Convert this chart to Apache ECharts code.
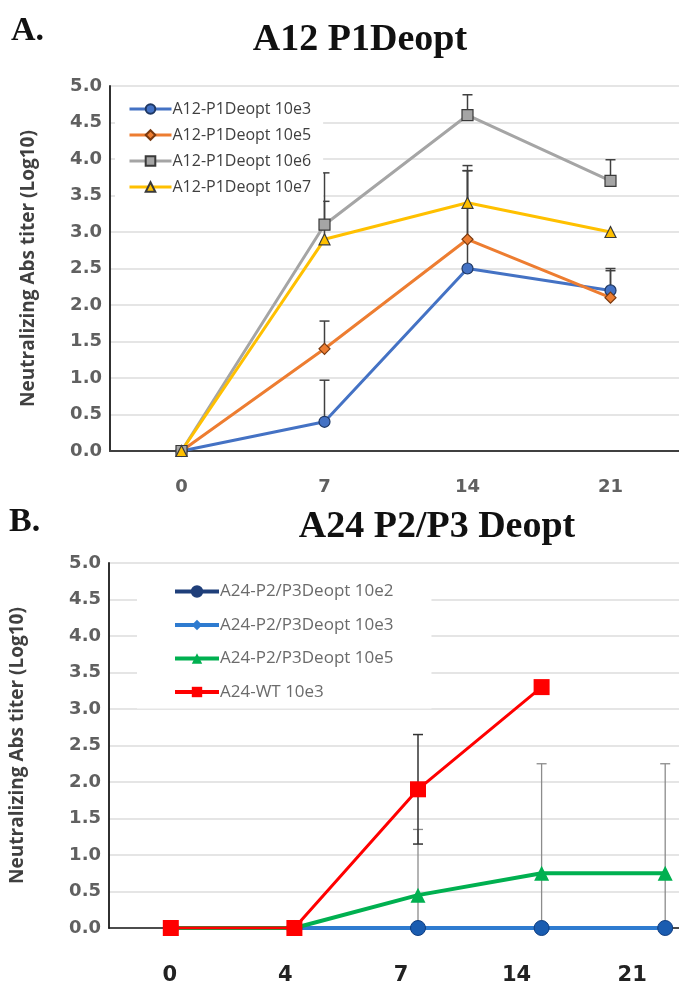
<!DOCTYPE html>
<html>
<head>
<meta charset="utf-8">
<title>Neutralizing Abs titer</title>
<script src="https://cdn.jsdelivr.net/npm/echarts@6/dist/echarts.min.js"></script>
<style>
    html, body { margin: 0; padding: 0; background: #fff; }
    #chart { width: 679px; height: 986px; }
</style>
</head>
<body>
<div id="chart"></div>
<script>
// ---- panel A : A12 P1Deopt ----
const daysA = ['0', '7', '14', '21'];
const namesA = ['A12-P1Deopt 10e3', 'A12-P1Deopt 10e5', 'A12-P1Deopt 10e6', 'A12-P1Deopt 10e7'];
const a10e3 = [0, 0.4, 2.5, 2.2];
const a10e5 = [0, 1.4, 2.9, 2.1];
const a10e6 = [0, 3.1, 4.6, 3.7];
const a10e7 = [0, 2.9, 3.4, 3.0];
// top end of the (plus only) error bars, null = no bar
const a10e3Err = [null, 0.97, 3.84, 2.5];
const a10e5Err = [null, 1.78, 3.84, 2.47];
const a10e6Err = [null, 3.81, 4.88, 3.99];
const a10e7Err = [null, 3.42, 3.91, null];

// ---- panel B : A24 P2/P3 Deopt ----
const daysB = ['0', '4', '7', '14', '21'];
const namesB = ['A24-P2/P3Deopt 10e2', 'A24-P2/P3Deopt 10e3', 'A24-P2/P3Deopt 10e5', 'A24-WT 10e3'];
const b10e2 = [0, 0, 0, 0, 0];
const b10e3 = [0, 0, 0, 0, 0];
const b10e5 = [0, 0, 0.45, 0.75, 0.75];
const bWT = [0, 0, 1.9, 3.3, null];
const b10e5ErrLow = [null, null, 0, 0, 0];
const b10e5ErrHigh = [null, null, 1.35, 2.25, 2.25];
const bWTErrLow = [null, null, 1.15, null, null];
const bWTErrHigh = [null, null, 2.65, null, null];

const chart = echarts.init(document.getElementById('chart'));

/**
 * 误差线数据: [index, low, high, lowCap]
 */
function errData(values, highs, lows) {
    const out = [];
    highs.forEach((h, i) => {
        if (h === null) return;
        const low = lows ? lows[i] : values[i];
        const lowCap = lows ? (lows[i] > 0 ? 1 : 0) : 0;
        out.push([i, low, h, lowCap]);
    });
    return out;
}

function errSeries(axisIdx, data, color, width) {
    return {
        type: 'custom',
        xAxisIndex: axisIdx,
        yAxisIndex: axisIdx,
        z: 1,
        silent: true,
        data: data,
        renderItem: function (params, api) {
            const x = api.value(0);
            const top = api.coord([x, api.value(2)]);
            const bot = api.coord([x, api.value(1)]);
            const half = 5;
            const style = { stroke: color, lineWidth: width };
            const children = [
                { type: 'line', shape: { x1: top[0], y1: top[1], x2: bot[0], y2: bot[1] }, style: style },
                { type: 'line', shape: { x1: top[0] - half, y1: top[1], x2: top[0] + half, y2: top[1] }, style: style }
            ];
            if (api.value(3)) {
                children.push({ type: 'line', shape: { x1: bot[0] - half, y1: bot[1], x2: bot[0] + half, y2: bot[1] }, style: style });
            }
            return { type: 'group', children: children };
        }
    };
}

function lineSeries(axisIdx, name, data, color, symbol, size, lw, border, z) {
    return {
        name: name,
        type: 'line',
        xAxisIndex: axisIdx,
        yAxisIndex: axisIdx,
        data: data,
        symbol: symbol,
        symbolSize: size,
        showAllSymbol: true,
        connectNulls: false,
        z: z || 2,
        lineStyle: { color: color, width: lw },
        itemStyle: { color: color, borderColor: border || color, borderWidth: border ? 1.2 : 0, opacity: 1 },
        emphasis: { disabled: true }
    };
}

const tickFont = { fontFamily: 'DejaVu Sans', fontWeight: 'bold', fontSize: 18, color: '#606060' };

const yAxisBase = {
    type: 'value',
    min: 0,
    max: 5,
    interval: 0.5,
    name: 'Neutralizing Abs titer (Log10)',
    nameLocation: 'middle',
    nameTextStyle: { fontFamily: 'Open Sans', fontWeight: 'bold', fontSize: 19, color: '#404040' },
    axisLine: { show: true, lineStyle: { color: '#1a1a1a', width: 1.8 } },
    axisTick: { show: false },
    axisLabel: Object.assign({ formatter: v => v.toFixed(1) }, tickFont),
    splitLine: { lineStyle: { color: '#dcdcdc', width: 1.6 } }
};

// 图例: 10e2 的线在图中被 10e3 盖住, 图例里仍用深蓝
const legendB = namesB.map(n => ({ name: n }));
legendB[0].lineStyle = { color: '#1F3F7A' };
legendB[0].itemStyle = { color: '#1F3F7A', borderColor: '#1F3F7A' };

const option = {
    backgroundColor: '#fff',
    animation: false,
    graphic: [
        { type: 'text', left: 11, top: 14, style: { text: 'A.', font: 'bold 34px "Liberation Serif"', fill: '#111' } },
        { type: 'text', x: 360, y: 40, style: { text: 'A12 P1Deopt', font: 'bold 38px "Liberation Serif"', fill: '#111', align: 'center', verticalAlign: 'middle' } },
        { type: 'text', left: 9, top: 505, style: { text: 'B.', font: 'bold 34px "Liberation Serif"', fill: '#111' } },
        { type: 'text', x: 437, y: 527, style: { text: 'A24 P2/P3 Deopt', font: 'bold 38px "Liberation Serif"', fill: '#111', align: 'center', verticalAlign: 'middle' } }
    ],
    grid: [
        { left: 110, top: 86, width: 572, height: 365, outerBoundsMode: 'none' },
        { left: 109, top: 563, width: 618, height: 365, outerBoundsMode: 'none' },
        // only carries the day labels of panel B
        { left: 112, top: 563, width: 578, height: 365, outerBoundsMode: 'none' }
    ],
    legend: [
        {
            data: namesA,
            orient: 'vertical',
            left: 115,
            top: 93,
            padding: [8, 12, 8, 13],
            itemGap: 10,
            itemWidth: 42,
            itemHeight: 12,
            backgroundColor: '#fff',
            lineStyle: { width: 3 },
            textStyle: { fontFamily: 'Open Sans', fontSize: 16, lineHeight: 16, color: '#404040', padding: [0, 0, 0, -4] }
        },
        {
            data: legendB,
            orient: 'vertical',
            left: 137,
            top: 574,
            padding: [9, 38, 8, 36],
            itemGap: 16.5,
            itemWidth: 44,
            itemHeight: 13,
            backgroundColor: '#fff',
            lineStyle: { width: 4 },
            textStyle: { fontFamily: 'Open Sans', fontSize: 17, lineHeight: 17, color: '#6b6b6b', padding: [0, 0, 0, -4] }
        }
    ],
    xAxis: [
        {
            gridIndex: 0,
            type: 'category',
            data: daysA,
            boundaryGap: true,
            axisLine: { lineStyle: { color: '#404040', width: 2.2 } },
            axisTick: { show: false },
            axisLabel: Object.assign({ margin: 27 }, tickFont)
        },
        {
            gridIndex: 1,
            type: 'category',
            data: daysB,
            boundaryGap: true,
            axisLine: { lineStyle: { color: '#1a1a1a', width: 1.6 } },
            axisTick: { show: false },
            axisLabel: { show: false }
        },
        {
            gridIndex: 2,
            type: 'category',
            data: daysB,
            boundaryGap: true,
            axisLine: { show: false },
            axisTick: { show: false },
            axisLabel: { fontFamily: 'DejaVu Sans', fontWeight: 'bold', fontSize: 21, color: '#222', margin: 37 }
        }
    ],
    yAxis: [
        Object.assign({}, yAxisBase, { gridIndex: 0, nameGap: 72 }),
        Object.assign({}, yAxisBase, { gridIndex: 1, nameGap: 82 }),
        { gridIndex: 2, type: 'value', min: 0, max: 5, show: false }
    ],
    series: [
        errSeries(0, errData(a10e3, a10e3Err), '#404040', 1.5),
        errSeries(0, errData(a10e5, a10e5Err), '#404040', 1.5),
        errSeries(0, errData(a10e6, a10e6Err), '#404040', 1.5),
        errSeries(0, errData(a10e7, a10e7Err), '#404040', 1.5),
        lineSeries(0, namesA[0], a10e3, '#4472C4', 'circle', 11, 3, '#1f3864'),
        lineSeries(0, namesA[1], a10e5, '#ED7D31', 'diamond', 11, 3, '#7a3a10'),
        lineSeries(0, namesA[2], a10e6, '#A5A5A5', 'rect', 11, 3, '#3a3a3a'),
        lineSeries(0, namesA[3], a10e7, '#FFC000', 'triangle', 11, 3, '#3a3a3a'),

        errSeries(1, errData(b10e5, b10e5ErrHigh, b10e5ErrLow), '#8c8c8c', 1.3),
        errSeries(1, errData(bWT, bWTErrHigh, bWTErrLow), '#333333', 1.5),
        lineSeries(1, namesB[1], b10e3, '#2E7BD0', 'diamond', 8, 4, null, 2),
        lineSeries(1, namesB[0], b10e2, '#2E7BD0', 'circle', 15, 4, '#0f3d80', 3),
        lineSeries(1, namesB[2], b10e5, '#00B050', 'triangle', 15, 4, null, 4),
        lineSeries(1, namesB[3], bWT, '#FF0000', 'rect', 16, 3, null, 5)
    ]
};

// 10e2 的点: 比线深的蓝
option.series[11].itemStyle.color = '#1a5cb0';
option.series[11].itemStyle.borderWidth = 1;

chart.setOption(option);
</script>
</body>
</html>
